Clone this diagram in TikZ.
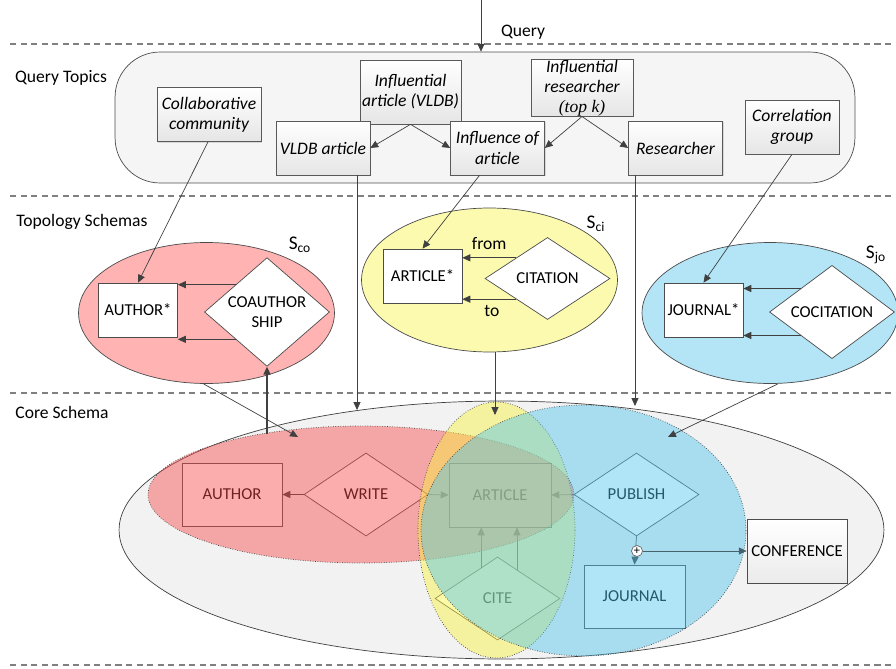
\documentclass[tikz,border=0pt]{standalone}
\usepackage{fontspec}
\setmainfont{Carlito}
\newfontfamily\serifit{Liberation Serif}
\usepackage{tikz}
\usetikzlibrary{positioning}
\usetikzlibrary{arrows.meta}
\usetikzlibrary{shapes.geometric}
\usetikzlibrary{shadows}
\usetikzlibrary{calc}

\definecolor{topicbg}{HTML}{F5F5F5}
\definecolor{corebg}{HTML}{F2F2F2}
\definecolor{coRed}{HTML}{FFB3B3}
\definecolor{ciYellow}{HTML}{FCFAAE}
\definecolor{joBlue}{HTML}{B3E5F7}
\definecolor{wrRed}{HTML}{F74949}
\definecolor{citeYellow}{HTML}{F9F43C}
\definecolor{puBlue}{HTML}{50C4EE}
\definecolor{lineGray}{HTML}{404040}

\begin{document}
\begin{tikzpicture}[x=0.02cm,y=-0.02cm,
    font=\fontsize{10}{11.5}\selectfont,
    layer/.style={draw=black!50, line width=0.7pt, dash pattern=on 3.5pt off 2.5pt},
    topic/.style={draw=black!65, top color=white, bottom color=black!10, font=\fontsize{10}{11.5}\selectfont\itshape, align=center, minimum width=1.88cm, minimum height=1.08cm, inner sep=1pt, drop shadow={shadow xshift=0.6pt, shadow yshift=-0.6pt, opacity=0.25}},
    entity/.style={draw=black!70, fill=white, minimum width=1.58cm, minimum height=1.08cm, inner sep=1pt, font=\fontsize{9.5}{11}\selectfont},
    relation/.style={diamond, draw=black!70, fill=white, minimum width=2.5cm, minimum height=1.64cm, inner sep=0pt, align=center, font=\fontsize{9.5}{11}\selectfont},
    link/.style={draw=lineGray, -{Triangle[length=4.5pt,width=4pt]}},
    schema/.style={ellipse, draw=black!70, minimum width=5.12cm, minimum height=2.82cm},
    part/.style={ellipse, densely dotted, draw=black!75, fill opacity=0.45}
]
    \useasboundingbox (0,0) rectangle (896,669);

    % Layers
    \foreach \y in {44,196,393,665} {
        \draw[layer] (10,\y) -- (896,\y);
    }
    \node (qlabel) at (523,32) {Query};
    \node (toplabel) at (61,78) {Query Topics};
    \node (schlabel) at (82,222) {Topology Schemas};
    \node (corelabel) at (62,412) {Core Schema};

    % Query Topics
    \node[draw=black!70, fill=topicbg, rounded corners=0.9cm, minimum width=14.8cm, minimum height=2.62cm] (topics) at (485,117.5) {};
    \coordinate (qin) at (481,0);
    \draw[link] (qin) -- (qin |- topics.north);

    \node[topic, minimum width=2.08cm] (collab) at (209,114.5) {Collaborative\\community};
    \node[topic, minimum width=2.02cm, minimum height=1.28cm] (inflart) at (410.5,92) {Influential\\article (VLDB)};
    \node[topic] (vldb) at (323,148) {VLDB article};
    \node[topic] (inflof) at (497.5,148) {Influence of\\article};
    \node[topic, minimum width=2.04cm, inner ysep=0pt] (inflres) at (582,88) {Influential\\researcher\\{\serifit\itshape (top k)}};
    \node[topic] (resr) at (675.5,148) {Researcher};
    \node[topic] (corr) at (792,127) {Correlation\\group};

    \draw[link] (inflart.south) -- (vldb.east);
    \draw[link] (inflart.south) -- (inflof.west);
    \draw[link] (inflres.south) -- (inflof.east);
    \draw[link] (inflres.south) -- (resr.west);

    % Topology Schemas
    \node[schema, fill=coRed] (sco) at (206.5,313) {};
    \node[schema, fill=ciYellow, minimum height=2.88cm] (sci) at (489.5,280) {};
    \node[schema, fill=joBlue] (sjo) at (770,313) {};
    \node[font=\fontsize{11}{12}\selectfont] (scolabel) at (300,245) {S\textsubscript{co}};
    \node[font=\fontsize{11}{12}\selectfont] (scilabel) at (596,224) {S\textsubscript{ci}};
    \node[font=\fontsize{11}{12}\selectfont] (sjolabel) at (876,255) {S\textsubscript{jo}};

    \node[entity] (astar) at (138,310) {AUTHOR*};
    \node[relation] (coauth) at (267,312) {COAUTHOR\\SHIP};
    \node[entity] (artstar) at (422.5,276) {ARTICLE*};
    \node[relation] (citation) at (547.5,278.5) {CITATION};
    \node[entity] (jstar) at (703.5,310) {JOURNAL*};
    \node[relation] (cocit) at (832,312) {COCITATION};

    \draw[link] (coauth.north west) -- (coauth.north west -| astar.east);
    \draw[link] (coauth.south west) -- (coauth.south west -| astar.east);
    \draw[link] (citation.north west) -- (citation.north west -| artstar.east)
        node[pos=0.5, above=1pt] (from) {from};
    \draw[link] (citation.south west) -- (citation.south west -| artstar.east)
        node[pos=0.45, below=0pt] (to) {to};
    \draw[link] (cocit.north west) -- (cocit.north west -| jstar.east);
    \draw[link] (cocit.south west) -- (cocit.south west -| jstar.east);

    \draw[link] ([xshift=-0.02cm]collab.south) -- (astar.north);
    \draw[link] ([xshift=-0.36cm]inflof.south) -- (artstar.north);
    \draw[link] (corr.south) -- (jstar.north);

    % Core Schema
    \node[ellipse, draw=black!75, fill=corebg, minimum width=15.3cm, minimum height=5.16cm] (core) at (501.5,530) {};

    \node[entity, minimum width=2cm, minimum height=1.26cm] (author) at (232,494.5) {AUTHOR};
    \node[relation, minimum width=2.48cm, minimum height=1.66cm] (write) at (366,494.5) {WRITE};
    \node[entity, minimum width=2.04cm, minimum height=1.28cm] (article) at (500,495) {ARTICLE};
    \node[relation, minimum width=2.5cm, minimum height=1.66cm] (publish) at (636.5,494.5) {PUBLISH};
    \node[relation, minimum width=2.5cm, minimum height=1.66cm] (cite) at (497.5,598.5) {CITE};
    \node[entity, minimum width=2.02cm, minimum height=1.26cm] (journal) at (634.5,596.5) {JOURNAL};

    \draw[link] (write.west) -- (author.east);
    \draw[link] (write.east) -- (article.west);
    \draw[link] (publish.west) -- (article.east);
    \coordinate (citel) at ($(cite.north)!0.26!(cite.west)$);
    \coordinate (citer) at ($(cite.north)!0.31!(cite.east)$);
    \draw[link] (citel) -- (citel |- article.south);
    \draw[link] (citer) -- (citer |- article.south);
    \draw[link] (publish.south) -- (journal.north);

    \node[part, fill=wrRed, minimum width=8.52cm, minimum height=2.74cm] (cwr) at (361,494.5) {};
    \node[part, fill=citeYellow, minimum width=3.14cm, minimum height=5.12cm] (cci) at (496.5,530) {};
    \node[part, fill=puBlue, minimum width=6.5cm, minimum height=5.02cm] (cpu) at (583.5,530.5) {};

    \node[entity, top color=white, bottom color=black!8, minimum width=2cm, minimum height=1.28cm, drop shadow={shadow xshift=0.6pt, shadow yshift=-0.6pt, opacity=0.25}] (conf) at (797,551) {CONFERENCE};
    \node[circle, draw=black!60, fill=white, inner sep=0pt, minimum size=0.22cm, font=\fontsize{7}{7}\selectfont] (plus) at (637,551) {+};
    \draw[link, draw=lineGray!75!puBlue] (plus.east) -- (conf.west);

    % Mappings between the layers
    \coordinate (vldbin) at (357,410);
    \coordinate (resrin) at (635,406);
    \coordinate (sciin) at (495,415);
    \coordinate (wrin) at (298,437);
    \coordinate (puin) at (668,437);
    \coordinate (coin) at (267,434);
    \draw[link] (vldbin |- vldb.south) -- (vldbin);
    \draw[link] (resrin |- resr.south) -- (resrin);
    \draw[link] (sciin |- sci.south) -- (sciin);
    \draw[link] ([xshift=-0.06cm]sco.south) -- (wrin);
    \draw[link] ([xshift=0.16cm]sjo.south) -- (puin);
    \draw[link, line width=0.8pt] (coin) -- (coauth.south);

\end{tikzpicture}
\end{document}
